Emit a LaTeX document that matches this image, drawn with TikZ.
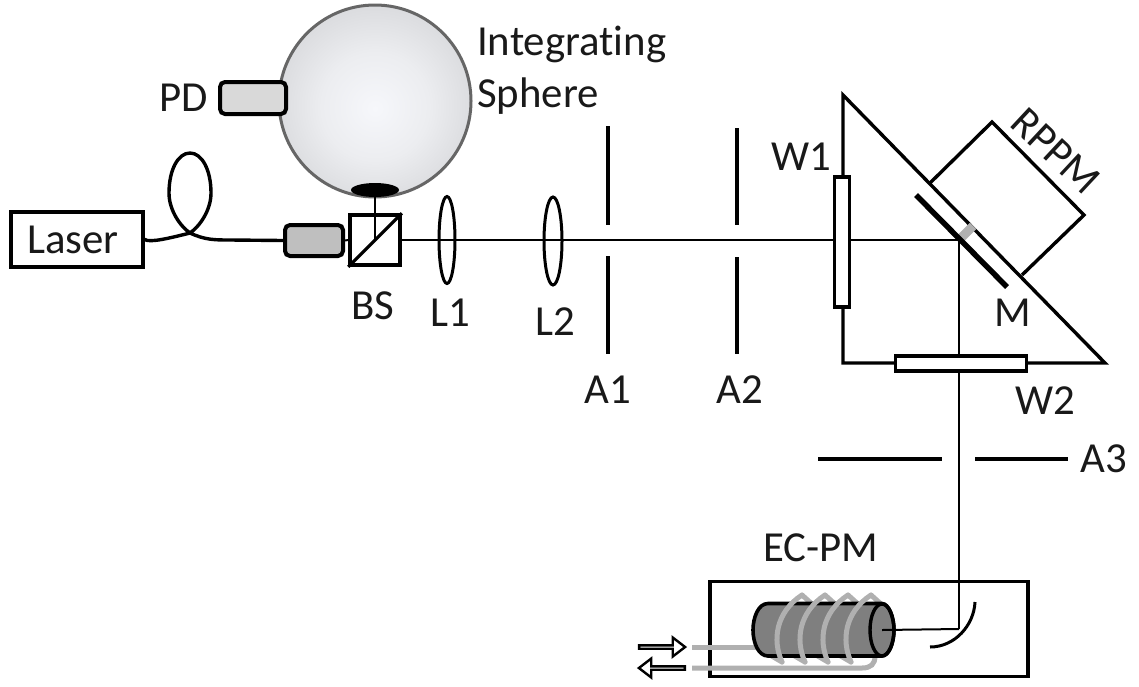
\documentclass[tikz,border=0pt]{standalone}
\usepackage{fontspec}
\setmainfont[Ligatures={NoCommon}]{Carlito}
\usetikzlibrary{shapes.geometric,shapes.arrows,calc}
\definecolor{boxgray}{HTML}{BFBFBF}
\definecolor{pdgray}{HTML}{D9D9D9}
\definecolor{cylgray}{HTML}{7F7F7F}
\definecolor{coilgray}{HTML}{B0B0B0}
\definecolor{sphA}{HTML}{F6F7FB}
\definecolor{sphB}{HTML}{ECEDF0}
\definecolor{sphC}{HTML}{CFD0D3}
\definecolor{sphD}{HTML}{B2B2B5}
\pgfdeclareradialshading{sphereshade}{\pgfpoint{0bp}{-2bp}}{color(0bp)=(sphA); color(14bp)=(sphB); color(34bp)=(sphC); color(50bp)=(sphD)}
\tikzset{
  lbl/.style={font=\fontsize{42.8}{46}\selectfont, text=black!90, inner sep=0pt},
  beam/.style={draw=black, line width=2pt},
  thick line/.style={draw=black, line width=3.4pt},
  slit/.style={draw=black, line width=4pt},
  coil/.style={draw=coilgray, line width=5pt, line cap=round},
  boxrect/.style={draw=black, line width=3.4pt, fill=white, inner sep=0pt, minimum width=#1},
  rounded gray/.style={draw=black, line width=4pt, rounded corners=5pt, inner sep=0pt},
  lens/.style={draw=black, line width=3pt, ellipse, inner sep=0pt, fill=none},
  hollow arrow/.style={single arrow, draw=black, line width=2.4pt, fill=white, inner sep=0pt,
     minimum height=46pt, minimum width=19pt, single arrow head extend=5.5pt, single arrow tip angle=75},
}
\begin{document}
\begin{tikzpicture}[x=1pt,y=-1pt]
\useasboundingbox (0,0) rectangle (1139,686);
% sphere
\shade[shading=sphereshade] (375,101) circle (96);
\draw[draw=black!60, line width=3pt] (375,101) circle (96);
\node[fill=black, ellipse, minimum width=48pt, minimum height=14pt, inner sep=0pt] (port) at (375,190) {};
% PD
\node[rounded gray, fill=pdgray, minimum width=66pt, minimum height=32pt] (pd) at (253,98) {};
\node[lbl, anchor=east] (pdl) at (208,98) {PD};
\node[lbl, anchor=base west] (isa) at (477,55) {Integrating};
\node[lbl, anchor=base west] (isb) at (477,107) {Sphere};
% laser
\node[boxrect=132pt, minimum height=55pt, draw=black, line width=3.4pt] (laser) at (77,239.5) {};
\node[lbl] (laserl) at (73,239.5) {Laser};
% collimator, BS
\node[rounded gray, fill=boxgray, minimum width=58pt, minimum height=31pt] (coll) at (314,240.5) {};
\node[draw=black, line width=3.6pt, minimum width=50pt, minimum height=50pt, inner sep=0pt] (bs) at (375,240) {};
\draw[line width=3.2pt] (bs.south west) -- (bs.north east);
% fiber
\draw[thick line, line cap=round] (laser.east) .. controls (150,243) and (170,238) .. (190,233)
  .. controls (200,226) and (211,210) .. (211,193)
  .. controls (211,170) and (202,153) .. (190,153)
  .. controls (178,153) and (169,170) .. (169,193)
  .. controls (169,210) and (180,226) .. (190,233)
  .. controls (205,240) and (215,240) .. (230,240) -- (coll.west);
% beams
\coordinate (turn) at (959,240);
\coordinate (elbow) at (959,629);
\node[lens, minimum width=16pt, minimum height=87pt] (l1) at (447,240) {};
\node[lens, minimum width=18pt, minimum height=88pt] (l2) at (553,241) {};
\draw[beam] (coll.east) -- (bs.west);
\draw[beam] (bs.east) -- (turn);
\draw[beam] (port.south) -- (bs.center);
\draw[beam] (turn) -- (elbow);
% apertures
\draw[slit] (608,126) -- (608,225);
\draw[slit] (608,256) -- (608,354);
\draw[slit] (737,128) -- (737,225);
\draw[slit] (737,257) -- (737,354);
% prism
\coordinate (ta) at (843,95);
\coordinate (tb) at (1105,363);
\coordinate (tc) at (843,363);
\draw[thick line, line join=miter] (ta) -- (tb) -- (tc) -- cycle;
% RPPM
\coordinate (ra) at (930,183);
\coordinate (rb) at (992,122);
\coordinate (rc) at (1084,215);
\coordinate (rd) at (1022,275);
\draw[thick line, line join=miter] (ra) -- (rb) -- (rc) -- (rd);
\node[lbl, rotate=-43] (rppm) at (1056,151) {RPPM};
% mirror
\draw[line width=9pt, draw=coilgray] (961,238) -- (973,226);
\draw[line width=5.5pt, draw=black] (916,195) -- (1007,287);
\node[lbl] (ml) at (1013,313) {M};
% windows
\node[boxrect=15pt, minimum height=130pt] (w1) at (842,242) {};
\node[boxrect=131pt, minimum height=15pt] (w2) at (961,363.5) {};
% EC-PM
\node[draw=black, line width=3.6pt, minimum width=318pt, minimum height=95pt, inner sep=0pt] (ecbox) at (869,629) {};
\draw[slit] (818,459) -- (942,459);
\draw[slit] (975,459) -- (1068,459);
% coil backs
\foreach \d in {0,23,46,69} {
  \draw[coil] ($(802,595)+(\d,0)$) -- ($(812,604)+(\d,0)$);
  \draw[coil] ($(770,655)+(\d,0)$) -- ($(782,662)+(\d,0)$);
}
% lead lines
\draw[coil, line cap=butt] (692,647) -- (756,647);
\draw[coil, line cap=butt] (692,668) -- (862,668) .. controls (871,668) and (875,664) .. (875,656);
% cylinder
\draw[draw=black, line width=3.6pt, fill=cylgray]
  (882,603.5) -- (768,603.5) .. controls (758,603.5) and (753,618) .. (753,630)
  .. controls (753,642) and (758,656) .. (768,656) -- (882,656)
  .. controls (889,656) and (894,642) .. (894,630) .. controls (894,618) and (889,603.5) .. (882,603.5) -- cycle;
% coil fronts
\foreach \d in {0,23,46,69} {
  \draw[coil] ($(782,662)+(\d,0)$) .. controls ($(772,640)+(\d,0)$) and ($(776,612)+(\d,0)$) .. ($(802,595)+(\d,0)$);
}
\node[draw=black, line width=3.4pt, ellipse, minimum width=24pt, minimum height=52pt, inner sep=0pt] (cylend) at (882,630) {};
\draw[beam] (elbow) -- (cylend.center);
\draw[line width=3pt, line cap=butt] (975,602) .. controls (974,625) and (955,647) .. (930,647);
\node[hollow arrow] (arrin) at (661,647) {};
\node[hollow arrow, rotate=180] (arrout) at (663,668) {};
% labels
\node[lbl] (w1l) at (801,157) {W1};
\node[lbl] (bsl) at (373,306) {BS};
\node[lbl] (l1l) at (450,313) {L1};
\node[lbl] (l2l) at (555,322) {L2};
\node[lbl] (a1l) at (608,390) {A1};
\node[lbl] (a2l) at (740,390) {A2};
\node[lbl] (w2l) at (1045,401) {W2};
\node[lbl] (a3l) at (1104,459) {A3};
\node[lbl] (ecl) at (821,548) {EC-PM};
\end{tikzpicture}
\end{document}
